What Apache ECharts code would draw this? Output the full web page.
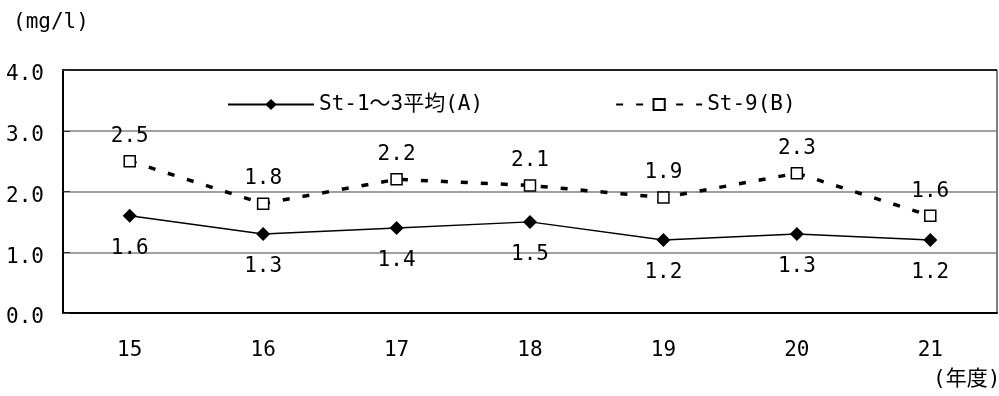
<!DOCTYPE html>
<html><head><meta charset="utf-8">
<script src="https://cdn.jsdelivr.net/npm/echarts@6/dist/echarts.min.js"></script>
<style>html,body{margin:0;padding:0;background:#fff}#c{width:999px;height:396px}</style>
</head><body><div id="c"></div>
<script>
const categories = ['15','16','17','18','19','20','21'];
const seriesAName = 'St-1～3平均(A)';
const seriesBName = 'St-9(B)';
const seriesA = [1.6, 1.3, 1.4, 1.5, 1.2, 1.3, 1.2];
const seriesB = [2.5, 1.8, 2.2, 2.1, 1.9, 2.3, 1.6];
const yTicks = [0, 1, 2, 3, 4];
const yUnit = '(mg/l)';
const xUnit = '(年度)';

const FONT = '"DejaVu Sans Mono", "Noto Sans CJK JP", monospace';
const FS = 21;
const chart = echarts.init(document.getElementById('c'), null, {renderer: 'canvas'});
chart.setOption({
  animation: false,
  backgroundColor: '#fff',
  textStyle: {fontFamily: FONT, color: '#000'},
  title: [
    {text: yUnit, left: 8, top: 7, textStyle: {fontFamily: FONT, fontSize: FS, fontWeight: 'normal', color: '#000'}},
    {text: xUnit, left: 928, top: 364, textStyle: {fontFamily: FONT, fontSize: FS, fontWeight: 'normal', color: '#000'}}
  ],
  grid: {left: 63, right: 2, top: 70, bottom: 83, show: true, borderColor: '#000', borderWidth: 1, backgroundColor: 'transparent'},
  legend: {
    left: 222, top: 89, itemGap: 132, itemWidth: 86, itemHeight: 14,
    textStyle: {fontFamily: FONT, fontSize: FS, color: '#000'},
    data: [seriesAName, seriesBName]
  },
  xAxis: {
    type: 'category', data: categories, boundaryGap: true,
    axisLine: {lineStyle: {color: '#000', width: 2}},
    axisTick: {inside: true, length: 8, lineStyle: {color: '#333', width: 1}},
    axisLabel: {fontFamily: FONT, fontSize: FS, color: '#000', margin: 27}
  },
  yAxis: {
    type: 'value', min: yTicks[0], max: yTicks[yTicks.length - 1], interval: 1,
    axisLine: {show: true, lineStyle: {color: '#000', width: 2}},
    axisTick: {show: true, inside: true, length: 7, lineStyle: {color: '#333'}},
    axisLabel: {fontFamily: FONT, fontSize: FS, color: '#000', margin: 19, verticalAlign: 'top', lineHeight: 10, formatter: v => v.toFixed(1)},
    splitLine: {show: true, lineStyle: {color: ['#000', '#808080', '#808080', '#808080', '#000'], width: 1.5}}
  },
  series: [
    {
      name: seriesAName, type: 'line', data: seriesA,
      symbol: 'diamond', symbolSize: 14,
      itemStyle: {color: '#000'},
      lineStyle: {color: '#000', width: 1.5},
      label: {show: true, position: 'bottom', distance: 15, fontFamily: FONT, fontSize: FS, color: '#000', formatter: p => p.value.toFixed(1)},
      z: 3
    },
    {
      name: seriesBName, type: 'line', data: seriesB,
      symbol: 'rect', symbolSize: 11,
      itemStyle: {color: '#fff', borderColor: '#000', borderWidth: 1.5},
      lineStyle: {color: '#000', width: 3.5, type: [7, 13]},
      label: {show: true, position: 'top', distance: 8, fontFamily: FONT, fontSize: FS, color: '#000', formatter: p => p.value.toFixed(1)},
      z: 3
    }
  ]
});
</script></body></html>
